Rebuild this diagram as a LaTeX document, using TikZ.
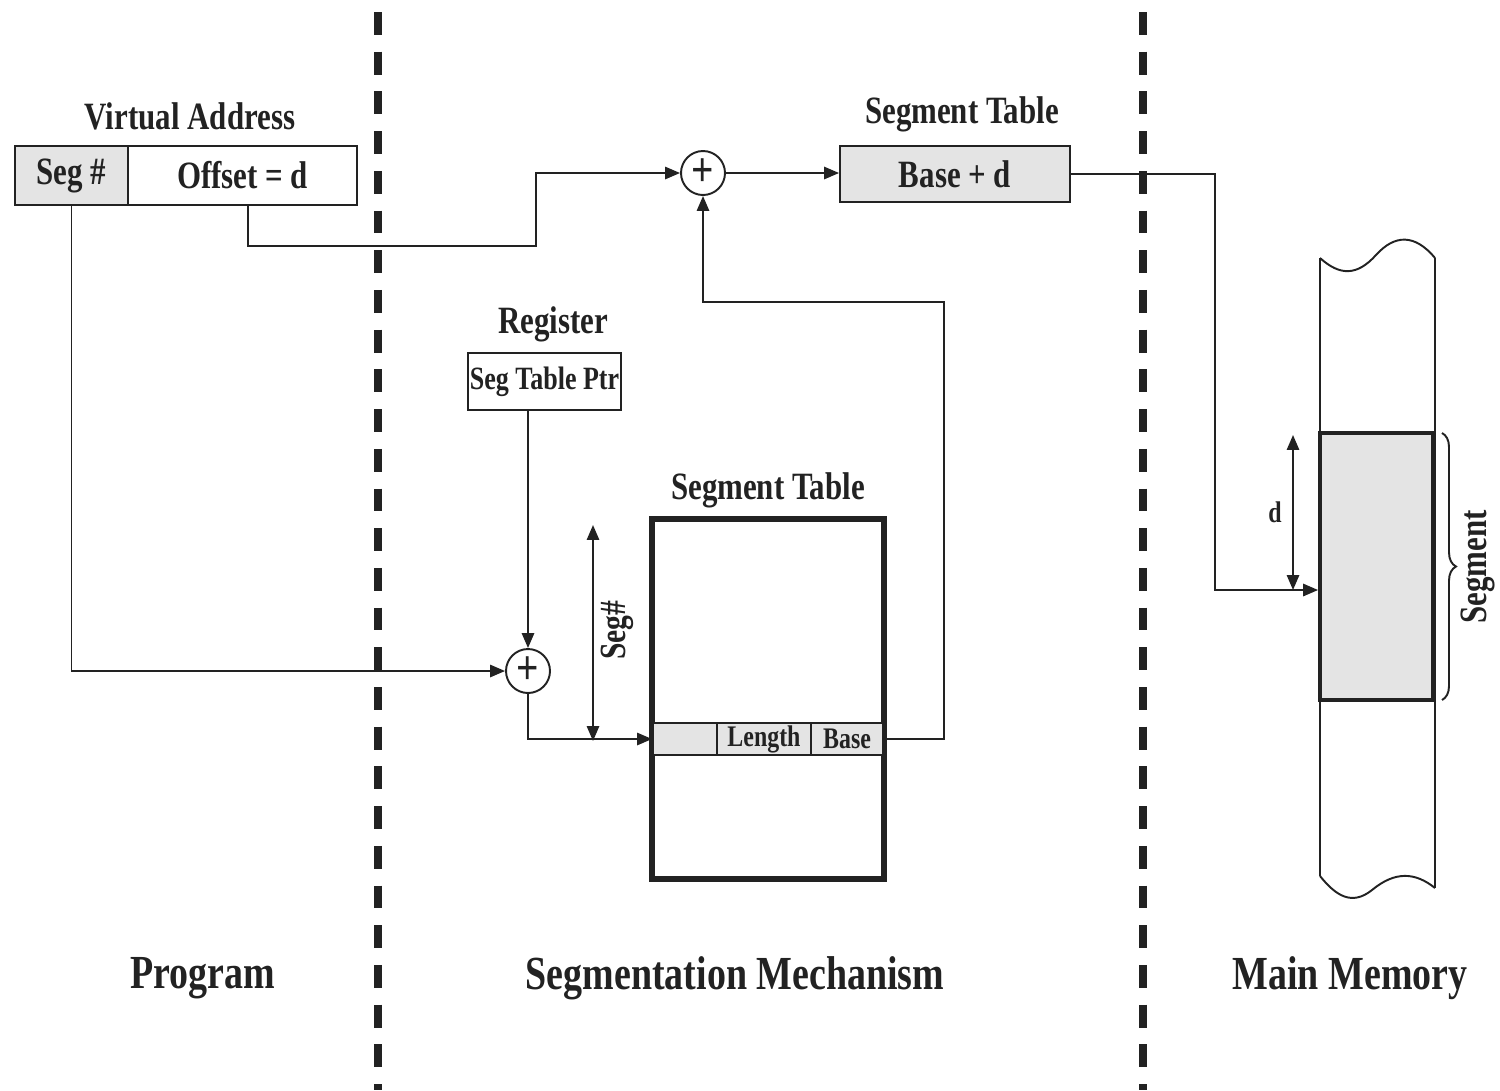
\documentclass[tikz,border=0pt]{standalone}
\usepackage{fontspec}
\setmainfont[FakeStretch=0.8]{Liberation Serif}
\usetikzlibrary{arrows.meta,decorations.pathreplacing,calc}
\definecolor{ink}{HTML}{222222}
\definecolor{shade}{HTML}{E4E4E4}
\begin{document}
\begin{tikzpicture}[x=0.02cm,y=-0.02cm,
  every node/.style={font=\bfseries, text=ink},
  wire/.style={draw=ink, line width=1.1pt},
  arr/.style={wire, -{Triangle[length=8.5pt,width=7pt]}},
  darr/.style={wire, {Triangle[length=8.5pt,width=7pt]}-{Triangle[length=8.5pt,width=7pt]}},
  cellbox/.style={draw=ink, line width=1.1pt, inner sep=0pt, font=\fontsize{22}{24}\bfseries\selectfont},
  smallcell/.style={draw=ink, line width=1.1pt, inner sep=0pt, fill=shade, font=\fontsize{17}{19}\bfseries\selectfont},
  lab/.style={font=\fontsize{22}{24}\bfseries\selectfont},
  biglab/.style={font=\fontsize{27}{30}\bfseries\selectfont},
  adder/.style={circle, draw=ink, line width=1.1pt, minimum size=0.88cm, inner sep=0pt, fill=white, font=\fontsize{28}{28}\bfseries\selectfont},
  sep/.style={draw=ink, line width=4.5pt, dash pattern=on 13pt off 9.6pt}
]
\useasboundingbox (0,0) rectangle (1500,1090);

% separators
\draw[sep] (378,12) -- (378,1090);
\draw[sep] (1143,12) -- (1143,1090);

% virtual address
\node[lab] (valab) at (190,116) {Virtual Address};
\node[cellbox, fill=shade, minimum width=2.26cm, minimum height=1.18cm] (segnum) at (71.5,175.5) {Seg \#};
\node[cellbox, fill=white, minimum width=4.58cm, minimum height=1.18cm] (offset) at (242.5,175.5) {Offset = d};
\coordinate (ofs) at (248,205);

% top adder and result
\node[adder] (p1) at (703,173) {+};
\node[lab] (stlab1) at (962,114) {Segment Table};
\node[cellbox, fill=shade, minimum width=4.6cm, minimum height=1.12cm] (based) at (955,174) {Base + d};

% register
\node[lab] (reglab) at (553,324) {Register};
\node[cellbox, fill=white, minimum width=3.06cm, minimum height=1.14cm, font=\fontsize{18.5}{20}\bfseries\selectfont] (ptr) at (544.5,381.5) {Seg Table Ptr};

% bottom adder
\node[adder] (p2) at (528,671) {+};

% segment table
\node[lab] (stlab2) at (768,490) {Segment Table};
\node[draw=ink, line width=2.2pt, minimum width=4.6cm, minimum height=7.16cm, inner sep=0pt] (stab) at (768,699) {};
\node[smallcell, minimum width=1.28cm, minimum height=0.64cm] (rowa) at (685,739) {};
\node[smallcell, minimum width=1.88cm, minimum height=0.64cm] (rowl) at (764,739) {Length};
\node[smallcell, minimum width=1.44cm, minimum height=0.64cm] (rowb) at (847,739) {Base};
\draw[draw=ink, line width=2.2pt] (stab.north west) rectangle (stab.south east);

% seg# extent
\coordinate (sa) at (593,525);
\coordinate (sb) at (593,741);
\draw[darr] (sa) -- (sb);
\node[rotate=90, font=\fontsize{21}{22}\bfseries\selectfont] (seglab) at (617,630) {Seg\#};

% main memory
\draw[wire] (1320,258) .. controls (1340,276) and (1357,276) .. (1376,255)
            .. controls (1395,234) and (1415,234) .. (1435,258);
\draw[wire] (1320,258) -- (1320,876);
\draw[wire] (1435,258) -- (1435,888);
\draw[wire] (1320,876) .. controls (1336,896) and (1352,906) .. (1372,890)
            .. controls (1395,871) and (1415,872) .. (1435,888);
\node[draw=ink, line width=2.2pt, fill=shade, minimum width=2.26cm, minimum height=5.34cm, inner sep=0pt] (segmem) at (1376.5,566.5) {};
\draw[wire, decorate, decoration={brace, amplitude=0.28cm}] (1442,433) -- (1442,700);
\node[rotate=90, font=\fontsize{22}{24}\bfseries\selectfont] (segword) at (1478,567) {Segment};
\coordinate (da) at (1293,435);
\coordinate (db) at (1293,590);
\draw[darr] (da) -- (db);
\node[font=\fontsize{17}{19}\bfseries\selectfont] (dlab) at (1275,512) {d};

% connectors
\coordinate (c1) at (536,246);
\draw[arr] (ofs) |- (c1) |- (p1);
\draw[arr] (p1) -- (based.west |- p1);
\coordinate (c2) at (1215,590);
\draw[arr] (based.east) -| (c2) -- (segmem.west |- c2);
\draw[arr] (segnum.south) |- (p2);
\draw[arr] (ptr.south -| p2) -- (p2);
\draw[arr] (p2) |- (rowa.west);
\coordinate (c3) at (944,302);
\draw[arr] (rowb.east) -| (c3) -| (p1);

% region labels
\node[biglab] (prog) at (203,978) {Program};
\node[biglab] (segmech) at (735,978) {Segmentation Mechanism};
\node[biglab] (mainmem) at (1350,978) {Main Memory};
\end{tikzpicture}
\end{document}
